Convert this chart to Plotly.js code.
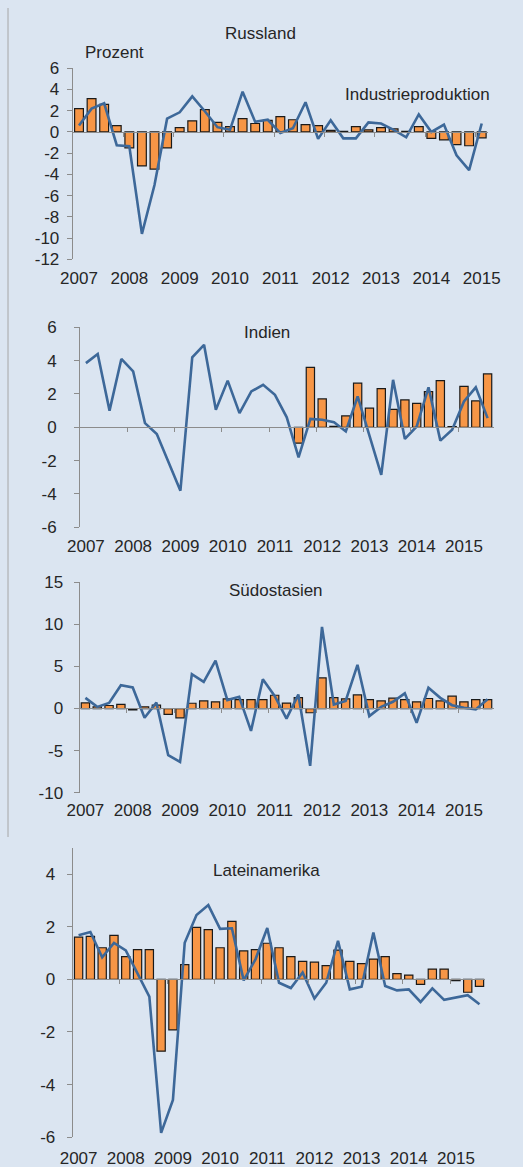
<!DOCTYPE html>
<html>
<head>
<meta charset="utf-8">
<script src="https://cdn.plot.ly/plotly-3.0.1.min.js"></script>
<style>html,body{margin:0;padding:0;background:#dbe5f1;}#chart{width:523px;height:1167px;}</style>
</head>
<body>
<div id="chart"></div>
<script>
// ---- data ----
const years = ["2007","2008","2009","2010","2011","2012","2013","2014","2015"];
function quarterLabels(n){const q=[];for(let i=0;i<n;i++){q.push((2007+Math.floor(i/4))+"Q"+(i%4+1));}return q;}
const quartersRU = quarterLabels(33); // 2007Q1 - 2015Q1
const quartersEM = quarterLabels(35); // 2007Q1 - 2015Q3

const titles = ["Russland","Indien","Südostasien","Lateinamerika"];

const yTicksRussland = [-12,-10,-8,-6,-4,-2,0,2,4,6];
const yTicksIndien = [-6,-4,-2,0,2,4,6];
const yTicksSuedostasien = [-10,-5,0,5,10,15];
const yTicksLateinamerika = [-6,-4,-2,0,2,4];

const barsRussland = [2.2,3.15,2.6,0.6,-1.5,-3.2,-3.5,-1.5,0.4,1.05,2.1,0.9,0.5,1.25,0.8,1.1,1.45,1.15,0.7,0.6,0.15,0.05,0.5,0.2,0.4,0.3,0.05,0.5,-0.6,-0.75,-1.2,-1.3,-0.55];
const lineRussland = [0.6,2.2,2.7,-1.25,-1.35,-9.6,-5.0,1.25,1.85,3.35,1.95,0.45,0.2,3.8,0.95,1.15,-0.1,0.35,2.8,-0.65,1.1,-0.6,-0.6,0.9,0.8,0.2,-0.5,1.65,0.0,0.7,-2.2,-3.6,0.8];

const barsIndien = [null,null,null,null,null,null,null,null,null,null,null,null,null,null,null,null,null,null,-0.95,3.6,1.7,0.05,0.68,2.65,1.15,2.32,1.08,1.64,1.44,2.14,2.8,0.04,2.45,1.58,3.2];
const lineIndien = [3.85,4.4,1.0,4.1,3.35,0.25,-0.4,-2.1,-3.8,4.2,4.95,1.05,2.8,0.85,2.15,2.55,1.95,0.6,-1.8,0.5,0.45,0.3,-0.25,1.85,-0.45,-2.85,2.85,-0.7,0.05,2.4,-0.8,-0.15,1.55,2.4,0.55];

const barsSuedostasien = [0.67,0.2,0.36,0.5,-0.15,0.2,0.4,-0.7,-1.1,0.63,0.91,0.8,1.15,1.07,1.07,1.07,1.58,0.65,1.3,-0.5,3.64,1.3,1.15,1.62,1.07,0.91,1.23,1.07,0.8,1.19,0.91,1.47,0.8,1.07,1.07];
const lineSuedostasien = [1.27,0.2,0.67,2.77,2.5,-1.1,0.7,-5.55,-6.34,4.08,3.17,5.7,1.0,1.39,-2.65,3.49,1.5,-1.19,1.66,-6.8,9.7,0.48,0.9,5.2,-0.9,0.2,0.8,1.8,-1.7,2.46,1.27,0.4,0.1,-0.1,1.1];

const barsLateinamerika = [1.6,1.63,1.2,1.67,0.86,1.13,1.13,-2.73,-1.92,0.56,1.97,1.89,1.2,2.2,1.08,1.13,1.37,1.2,0.86,0.68,0.65,0.52,1.11,0.68,0.6,0.77,0.86,0.22,0.16,-0.19,0.39,0.39,-0.05,-0.49,-0.27];
const lineLateinamerika = [1.67,1.8,0.84,1.38,1.1,0.25,-0.66,-5.83,-4.58,1.39,2.44,2.82,1.92,1.94,-0.04,0.76,1.95,-0.13,-0.33,0.26,-0.73,-0.13,1.46,-0.38,-0.28,1.78,-0.25,-0.42,-0.38,-0.86,-0.34,-0.78,-0.69,-0.6,-0.95];

// ---- layout geometry (pixels) ----
const W = 523, H = 1167;
const fx = p => p / W;
const fy = p => 1 - p / H;

const panels = [
  {title: titles[0], q: quartersRU, bars: barsRussland, line: lineRussland, yt: yTicksRussland,
   xPx:[72.7,488], yPx:[259.3,68.3], yr:[-12,6], zeroPx:132.3, labelPx:266, standoff:4,
   titlePos:[260,34]},
  {title: titles[1], q: quartersEM, bars: barsIndien, line: lineIndien, yt: yTicksIndien,
   xPx:[80,493.5], yPx:[527.3,327.3], yr:[-6,6], zeroPx:427.3, labelPx:534, standoff:14,
   titlePos:[267,332]},
  {title: titles[2], q: quartersEM, bars: barsSuedostasien, line: lineSuedostasien, yt: yTicksSuedostasien,
   xPx:[79.5,493.5], yPx:[792.7,582.3], yr:[-10,15], zeroPx:708.3, labelPx:798, standoff:7,
   titlePos:[275.5,590]},
  {title: titles[3], q: quartersEM, bars: barsLateinamerika, line: lineLateinamerika, yt: yTicksLateinamerika,
   xPx:[72.7,485.4], yPx:[1137.3,847.7], yr:[-6,5], zeroPx:979.3, labelPx:1146, standoff:8,
   titlePos:[266,870]}
];

const FONT = 'Arial, "Liberation Sans", sans-serif';
const TXT = '#262626';
const GRID = '#8c8c8c';

const data = [];
const layout = {
  width: W, height: H,
  margin: {l:0, r:0, t:0, b:0},
  paper_bgcolor: '#dbe5f1', plot_bgcolor: '#dbe5f1',
  showlegend: false,
  bargap: 0.3,
  font: {family: FONT, size: 17, color: TXT},
  annotations: [], shapes: []
};

panels.forEach((p, k) => {
  const n = p.q.length;
  const xs = p.q.map((_, i) => i);
  const xa = 'x' + (k + 1), ya = 'y' + (k + 1);
  const xl = 'x' + (k + 5);
  const xKey = 'xaxis' + (k + 1), yKey = 'yaxis' + (k + 1), xlKey = 'xaxis' + (k + 5);
  const dom = [fx(p.xPx[0]), fx(p.xPx[1])];
  const range = [-0.5, n - 0.5];
  const boundaries = [];
  for (let b = 3.5; b < n - 0.5; b += 4) boundaries.push(b);
  const labelVals = [], labelText = [];
  for (let i = 0; i < n; i += 4) { labelVals.push(i); labelText.push(years[i / 4]); }

  data.push({type:'bar', x: xs, y: p.bars, xaxis: xa, yaxis: ya,
    marker: {color:'#f79646', line:{color:'#1a1a1a', width:1.2}}, hoverinfo:'skip'});
  data.push({type:'scatter', mode:'lines', x: xs, y: p.line, xaxis: xa, yaxis: ya,
    line: {color:'#3d6899', width:2.6}, hoverinfo:'skip'});
  data.push({type:'scatter', mode:'lines', x: [], y: [], xaxis: xl, yaxis: ya, hoverinfo:'skip'});

  layout[xKey] = {domain: dom, range: range, anchor:'free', position: fy(p.zeroPx),
    showline: true, linecolor: GRID, linewidth: 1, ticks:'outside', ticklen:4, tickcolor: GRID,
    tickmode:'array', tickvals: boundaries, showticklabels:false, showgrid:false, zeroline:false, fixedrange:true};
  layout[xlKey] = {domain: dom, range: range, overlaying: xa, anchor:'free', position: fy(p.labelPx),
    showline:false, ticks:'', tickmode:'array', tickvals: labelVals, ticktext: labelText,
    tickfont:{family:FONT, size:17, color:TXT}, showgrid:false, zeroline:false, fixedrange:true};
  layout[yKey] = {domain: [fy(p.yPx[0]), fy(p.yPx[1])], range: p.yr, anchor: xa,
    showline:true, linecolor: GRID, linewidth:1, ticks:'outside', ticklen:5, tickcolor: GRID,
    tickmode:'array', tickvals: p.yt, ticktext: p.yt.map(v => String(v)),
    showgrid:false, zeroline:false, ticklabelstandoff: p.standoff,
    tickfont:{family:FONT, size:17, color:TXT}, fixedrange:true};

  layout.annotations.push({text: p.title, xref:'paper', yref:'paper', x: fx(p.titlePos[0]), y: fy(p.titlePos[1]),
    xanchor:'center', yanchor:'middle', showarrow:false, font:{family:FONT, size:17, color:TXT}});
});

layout.annotations.push({text:'Prozent', xref:'paper', yref:'paper', x: fx(83), y: fy(52.5),
  xanchor:'left', yanchor:'middle', showarrow:false, font:{family:FONT, size:17, color:TXT}});
layout.annotations.push({text:'Industrieproduktion', xref:'paper', yref:'paper', x: fx(343), y: fy(94),
  xanchor:'left', yanchor:'middle', showarrow:false, font:{family:FONT, size:17, color:TXT}});

layout.shapes.push({type:'line', xref:'paper', yref:'paper', x0: fx(8), x1: fx(8), y0: fy(8), y1: fy(837),
  line:{color:'#a6a6a6', width:1}});

Plotly.newPlot('chart', data, layout, {staticPlot:true, displayModeBar:false});
</script>
</body>
</html>
